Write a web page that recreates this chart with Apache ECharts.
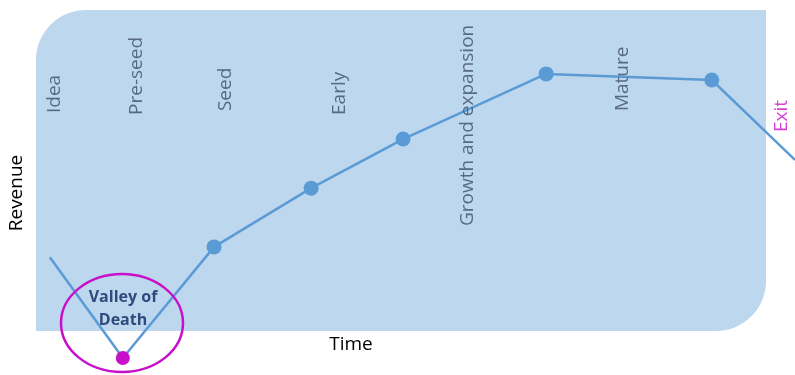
<!DOCTYPE html>
<html>
<head>
<meta charset="utf-8">
<script src="https://cdn.jsdelivr.net/npm/echarts@6/dist/echarts.min.js"></script>
<style>
html, body { margin: 0; padding: 0; background: #fff; }
#chart { width: 795px; height: 375px; }
</style>
</head>
<body>
<div id="chart"></div>
<script>
// revenue curve over the life of a startup (time, revenue)
let curveTime = [0.19, 1.19, 2.44, 3.77, 5.03, 6.99, 9.26, 10.4]
let curveRevenue = [2.3, -0.84, 2.62, 4.45, 5.98, 8.01, 7.82, 5.33]

// stage names and where each label sits
let stageNames = ['Idea', 'Pre-seed', 'Seed', 'Early', 'Growth and expansion', 'Mature', 'Exit']
let stageTime = [0.25, 1.38, 2.6, 4.16, 5.92, 8.04, 10.21]
let stageLevel = [6.79, 6.73, 6.85, 6.73, 3.27, 6.85, 6.2]

let blue = '#5B9BD5'
let magenta = '#C80FCA'

let chart = echarts.init(document.getElementById('chart'))

let lineData = curveTime.map((t, i) => {
    let item = { value: [t, curveRevenue[i]] }
    if (i === 0 || i === curveTime.length - 1) {
        // the ends of the curve have no dot
        item.symbolSize = 0
    } else if (i === 1) {
        // valley of death
        item.symbolSize = 14
        item.itemStyle = { color: magenta }
    }
    return item
})

let labelData = stageNames.map((name, i) => {
    return {
        name: name,
        value: [stageTime[i], stageLevel[i]],
        label: {
            color: name === 'Exit' ? magenta : '#3E4F68'
        }
    }
})

let option = {
    animation: false,
    // the plot runs off the right edge, past the shaded panel
    grid: { left: 36, right: 0, top: 10, bottom: 44 },
    xAxis: {
        type: 'value', min: 0, max: 10.4, show: false
    },
    yAxis: {
        type: 'value', min: 0, max: 10, show: false
    },
    graphic: [
        {
            type: 'rect',
            z: -10,
            shape: { x: 36, y: 10, width: 730, height: 321, r: [50, 0, 50, 0] },
            style: { fill: '#BDD7EE' }
        },
        {
            type: 'text',
            x: 17, y: 193,
            rotation: Math.PI / 2,
            style: {
                text: 'Revenue', fill: '#000', font: '19px "Open Sans"',
                align: 'center', verticalAlign: 'middle'
            }
        },
        {
            type: 'text',
            x: 351, y: 345,
            style: {
                text: 'Time', fill: '#000', font: '19px "Open Sans"',
                align: 'center', verticalAlign: 'middle'
            }
        },
        {
            type: 'ellipse',
            z: 10,
            shape: { cx: 122, cy: 323, rx: 61, ry: 49 },
            style: { fill: 'none', stroke: magenta, lineWidth: 2.5 }
        },
        {
            type: 'text',
            z: 10,
            x: 123, y: 297,
            style: {
                text: 'Valley of', fill: '#2F4A7E', font: 'bold 16px "Open Sans"',
                align: 'center', verticalAlign: 'middle'
            }
        },
        {
            type: 'text',
            z: 10,
            x: 123, y: 320,
            style: {
                text: 'Death', fill: '#2F4A7E', font: 'bold 16px "Open Sans"',
                align: 'center', verticalAlign: 'middle'
            }
        }
    ],
    series: [
        {
            type: 'line',
            clip: false,
            data: lineData,
            symbol: 'circle',
            symbolSize: 15,
            itemStyle: { color: blue },
            lineStyle: { color: blue, width: 2.5 },
            z: 3
        },
        {
            type: 'scatter',
            clip: false,
            data: labelData,
            symbolSize: 0,
            z: 4,
            label: {
                show: true,
                position: 'inside',
                formatter: '{b}',
                rotate: 90,
                align: 'left',
                verticalAlign: 'middle',
                fontFamily: 'Open Sans',
                fontSize: 19
            }
        }
    ]
}

chart.setOption(option)
window.addEventListener('resize', () => {
    chart.resize()
})
</script>
</body>
</html>
